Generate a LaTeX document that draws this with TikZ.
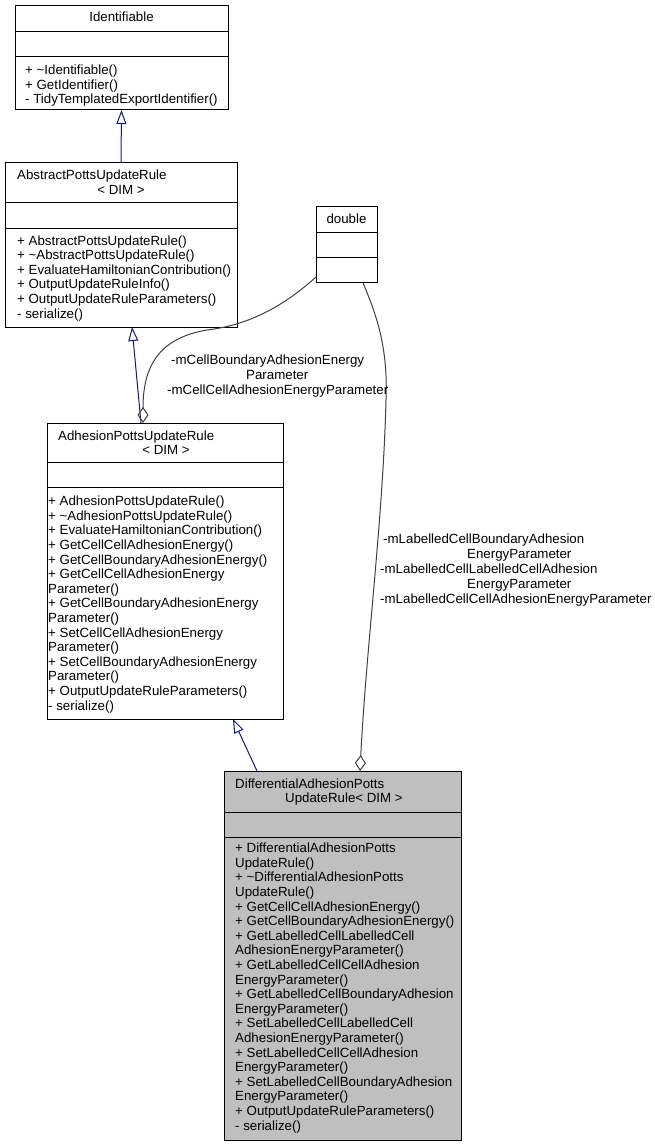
\documentclass[tikz,border=0pt]{standalone}
\usepackage{fontspec}
\setmainfont{Liberation Sans}
\usetikzlibrary{arrows.meta}
\definecolor{navyc}{RGB}{25,25,112}
\definecolor{aggc}{RGB}{64,64,64}
\definecolor{selc}{RGB}{191,191,191}
\newcommand{\fs}{\rule{0pt}{10pt}}
\newcommand{\tl}{\textasciitilde}
\begin{document}
\begin{tikzpicture}[x=1pt,y=-1pt,
  box/.style={draw=black, line width=1pt, inner sep=0pt, outer sep=0pt, anchor=north west},
  txt/.style={inner sep=0pt, anchor=north west, align=left, font=\fontsize{13.3}{14.6}\selectfont},
  ttl/.style={inner sep=0pt, anchor=base, font=\fontsize{13.3}{14.6}\selectfont},
  ttlw/.style={inner sep=0pt, anchor=base west, font=\fontsize{13.3}{14.6}\selectfont},
  lbl/.style={inner sep=0pt, anchor=north west, align=left, font=\fontsize{13.3}{15}\selectfont},
  inh/.style={draw=navyc, line width=1pt, -{Triangle[open,length=14pt,width=10pt]}},
  agg/.style={draw=aggc, line width=1pt, -{Diamond[open,length=16pt,width=11pt]}}]
\useasboundingbox[fill=white] (0,0) rectangle (655,1147);

% Identifiable
\node[box, minimum width=213pt, minimum height=104pt] (idf) at (15,6) {};
\draw[line width=1pt] ([yshift=-26pt]idf.north west) -- ([yshift=-26pt]idf.north east);
\draw[line width=1pt] ([yshift=-51pt]idf.north west) -- ([yshift=-51pt]idf.north east);
\node[ttl] (idft) at (121.5,21.5) {Identifiable};
\node[txt] (idfm) at (25,64.5) {\fs+ \tl Identifiable()\\+ GetIdentifier()\\- TidyTemplatedExportIdentifier()};

% AbstractPottsUpdateRule
\node[box, minimum width=232pt, minimum height=164pt] (abs) at (5,163) {};
\draw[line width=1pt] ([yshift=-40pt]abs.north west) -- ([yshift=-40pt]abs.north east);
\draw[line width=1pt] ([yshift=-66pt]abs.north west) -- ([yshift=-66pt]abs.north east);
\node[ttlw] (abst1) at (17,180) {AbstractPottsUpdateRule};
\node[ttl] (abst2) at (121,194.5) {< DIM >};
\node[txt] (absm) at (17,235) {\fs+ AbstractPottsUpdateRule()\\+ \tl AbstractPottsUpdateRule()\\+ EvaluateHamiltonianContribution()\\+ OutputUpdateRuleInfo()\\+ OutputUpdateRuleParameters()\\- serialize()};

% double
\node[box, minimum width=61pt, minimum height=76pt] (dbl) at (316,207) {};
\draw[line width=1pt] ([yshift=-26pt]dbl.north west) -- ([yshift=-26pt]dbl.north east);
\draw[line width=1pt] ([yshift=-51pt]dbl.north west) -- ([yshift=-51pt]dbl.north east);
\node[ttl] (dblt) at (346.5,223.5) {double};

% AdhesionPottsUpdateRule
\node[box, minimum width=236pt, minimum height=296pt] (adh) at (47,423) {};
\draw[line width=1pt] ([yshift=-39pt]adh.north west) -- ([yshift=-39pt]adh.north east);
\draw[line width=1pt] ([yshift=-64pt]adh.north west) -- ([yshift=-64pt]adh.north east);
\node[ttlw] (adht1) at (58,440) {AdhesionPottsUpdateRule};
\node[ttl] (adht2) at (166,454.5) {< DIM >};
\node[txt] (adhm) at (48,495.5) {\fs+ AdhesionPottsUpdateRule()\\+ \tl AdhesionPottsUpdateRule()\\+ EvaluateHamiltonianContribution()\\+ GetCellCellAdhesionEnergy()\\+ GetCellBoundaryAdhesionEnergy()\\+ GetCellCellAdhesionEnergy\\Parameter()\\+ GetCellBoundaryAdhesionEnergy\\Parameter()\\+ SetCellCellAdhesionEnergy\\Parameter()\\+ SetCellBoundaryAdhesionEnergy\\Parameter()\\+ OutputUpdateRuleParameters()\\- serialize()};

% DifferentialAdhesionPottsUpdateRule
\node[box, fill=selc, minimum width=237pt, minimum height=369pt] (diff) at (224,771) {};
\draw[line width=1pt] ([yshift=-41pt]diff.north west) -- ([yshift=-41pt]diff.north east);
\draw[line width=1pt] ([yshift=-66pt]diff.north west) -- ([yshift=-66pt]diff.north east);
\node[ttlw] (difft1) at (235,788) {DifferentialAdhesionPotts};
\node[ttlw] (difft2) at (285,802.5) {UpdateRule< DIM >};
\node[txt] (diffm) at (235,842.5) {\fs+ DifferentialAdhesionPotts\\UpdateRule()\\+ \tl DifferentialAdhesionPotts\\UpdateRule()\\+ GetCellCellAdhesionEnergy()\\+ GetCellBoundaryAdhesionEnergy()\\+ GetLabelledCellLabelledCell\\AdhesionEnergyParameter()\\+ GetLabelledCellCellAdhesion\\EnergyParameter()\\+ GetLabelledCellBoundaryAdhesion\\EnergyParameter()\\+ SetLabelledCellLabelledCell\\AdhesionEnergyParameter()\\+ SetLabelledCellCellAdhesion\\EnergyParameter()\\+ SetLabelledCellBoundaryAdhesion\\EnergyParameter()\\+ OutputUpdateRuleParameters()\\- serialize()};

% inheritance
\draw[inh] (abs.north) -- (idf.south);
\draw[inh] ([xshift=-24pt]adh.north) -- ([xshift=11pt]abs.south);
\draw[inh] ([xshift=-85.5pt]diff.north) -- ([xshift=68pt]adh.south);

% aggregation
\draw[agg] ([yshift=6pt]dbl.south west) .. controls (285,305) and (250,325) .. (207,330)
  .. controls (160,338) and (143,365) .. ([xshift=-22pt]adh.north);
\draw[agg] ([xshift=16.5pt]dbl.south) .. controls (378,318) and (388,350) .. (386,400)
  .. controls (383,520) and (366,650) .. ([xshift=17.5pt]diff.north);

% labels
\node[lbl] (l1) at (167,354.5) {\fs\hspace*{4pt}-mCellBoundaryAdhesionEnergy\\\hspace*{79pt}Parameter\\-mCellCellAdhesionEnergyParameter};
\node[lbl] (l2) at (380,533) {\fs\hspace*{3pt}-mLabelledCellBoundaryAdhesion\\\hspace*{87pt}EnergyParameter\\-mLabelledCellLabelledCellAdhesion\\\hspace*{87pt}EnergyParameter\\-mLabelledCellCellAdhesionEnergyParameter};
\end{tikzpicture}
\end{document}
